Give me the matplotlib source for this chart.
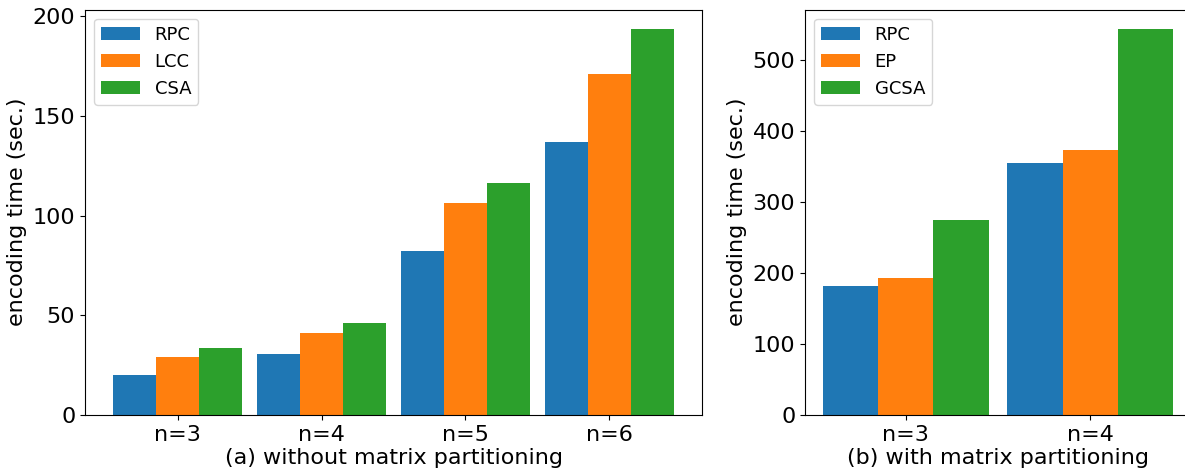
import matplotlib
matplotlib.use("Agg")
import matplotlib.pyplot as plt
from matplotlib.ticker import MultipleLocator
import numpy as np

# Left panel data
cats_a = ["n=3", "n=4", "n=5", "n=6"]
rpc_a = [20.0, 30.6, 82.2, 137.0]
lcc_a = [29.0, 41.1, 106.5, 171.2]
csa_a = [33.6, 46.0, 116.6, 193.8]
labels_a = ["RPC", "LCC", "CSA"]

# Right panel data
cats_b = ["n=3", "n=4"]
rpc_b = [181.0, 354.0]
ep_b = [192.5, 372.5]
gcsa_b = [274.0, 543.5]
labels_b = ["RPC", "EP", "GCSA"]

colors = ["#1f77b4", "#ff7f0e", "#2ca02c"]
w = 0.3

fig = plt.figure(figsize=(11.85, 4.7), dpi=100)
ax1 = fig.add_axes([85/1185, 55/470, 617/1185, 405.5/470])
ax2 = fig.add_axes([805/1185, 55/470, 386/1185, 405.5/470])

def draw(ax, cats, series, labels, xlabel, ystep):
    x = np.arange(len(cats))
    for i, (vals, lab) in enumerate(zip(series, labels)):
        ax.bar(x + (i - 1) * w, vals, w, label=lab, color=colors[i])
    ax.set_xticks(x)
    ax.set_xticklabels(cats)
    ax.yaxis.set_major_locator(MultipleLocator(ystep))
    ax.tick_params(labelsize=16)
    ax.set_ylabel("encoding time (sec.)", fontsize=16)
    ax.set_xlabel(xlabel, fontsize=16, labelpad=2)
    ax.legend(loc="upper left", fontsize=13, handlelength=2.15, handleheight=0.78)

draw(ax1, cats_a, [rpc_a, lcc_a, csa_a], labels_a, "(a) without matrix partitioning", 50)
draw(ax2, cats_b, [rpc_b, ep_b, gcsa_b], labels_b, "(b) with matrix partitioning", 100)

fig.savefig("out.png", dpi=100)
